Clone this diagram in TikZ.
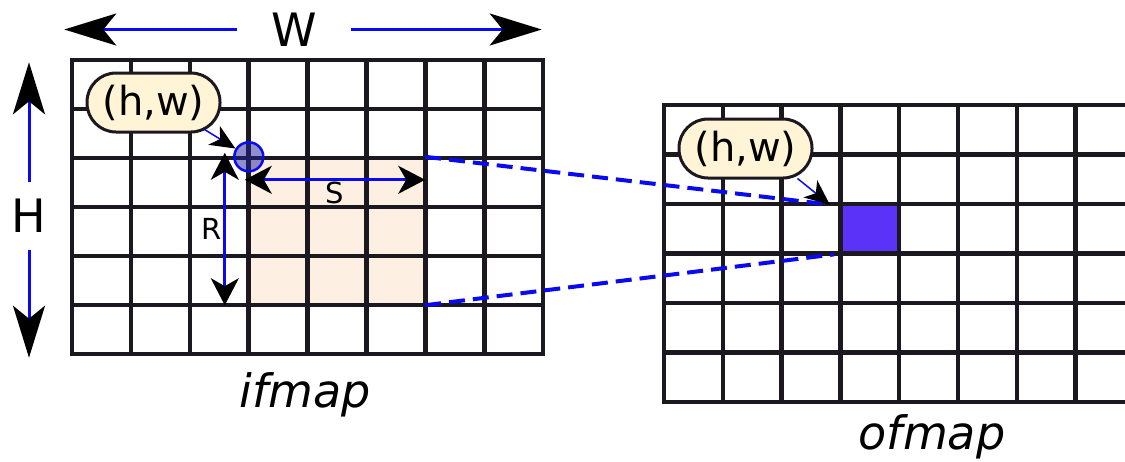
\documentclass[tikz,border=0pt]{standalone}
\usepackage{fontspec}
\setmainfont{DejaVu Sans}
\usepackage{tikz}
\usetikzlibrary{arrows.meta, calc, positioning}
\definecolor{gridink}{HTML}{1B1820}
\definecolor{winfill}{HTML}{FDF0E3}
\definecolor{bubblefill}{HTML}{FFF5D6}
\definecolor{cellfill}{HTML}{5A32F8}
\definecolor{dimblue}{HTML}{0A0AF0}
\definecolor{dotfill}{HTML}{20209A}
\tikzstyle{gridline} = [draw=gridink, line width=4.5pt, line cap=rect]
\tikzstyle{bubble} = [rectangle, rounded corners=29pt, draw=gridink, line width=3pt, fill=bubblefill, minimum width=133pt, minimum height=59pt, inner sep=0pt, font=\fontsize{40}{42}\selectfont]
\tikzstyle{bigarrow} = [draw=dimblue, line width=3pt, -{Stealth[length=52pt, width=32pt, inset=13pt, color=black]}]
\tikzstyle{dimarrow} = [draw=dimblue, line width=3pt, {Stealth[length=27pt, width=28pt, inset=8pt, color=black]}-{Stealth[length=27pt, width=28pt, inset=8pt, color=black]}]
\tikzstyle{pointer} = [draw=dimblue, line width=1.5pt, -{Stealth[length=25pt, width=22pt, inset=7pt, color=black]}]
\tikzstyle{link} = [draw=dimblue, line width=4pt, dash pattern=on 16pt off 8pt]
\tikzstyle{biglabel} = [font=\fontsize{46}{50}\selectfont, inner sep=0pt]
\tikzstyle{smalllabel} = [font=\fontsize{29}{32}\selectfont, inner sep=0pt]

\begin{document}
\begin{tikzpicture}[x=1pt, y=-1pt]
	\useasboundingbox (0,0) rectangle (1125,461);
	\node (Window) [rectangle, fill=winfill, minimum width=176pt, minimum height=148pt, inner sep=0pt] at (337,231) {};
	\node (OutCell) [rectangle, fill=cellfill, minimum width=59pt, minimum height=49.5pt, inner sep=0pt] at (869.5,229.5) {};
	% ifmap and ofmap grids
	\foreach \i in {0,...,8} \draw[gridline] (72+58.9*\i,60) -- (72+58.9*\i,354);
	\foreach \j in {0,...,6} \draw[gridline] (72,60+49*\j) -- (543,60+49*\j);
	\foreach \i in {0,...,7} \draw[gridline] (664+58.8*\i,105) -- (664+58.8*\i,402);
	\foreach \j in {0,...,6} \draw[gridline] (664,105+49.5*\j) -- (1123,105+49.5*\j);
	\draw[link] (Window.north east) -- ([xshift=-10pt]OutCell.north west) coordinate (OutTop);
	\draw[link] (Window.south east) -- ([xshift=-6pt]OutCell.south west);
	\node (Corner) [circle, draw=dimblue, line width=2.5pt, fill=dotfill, fill opacity=0.5, minimum size=29pt, inner sep=0pt] at (Window.north west) {};
	\draw[dimarrow] ([xshift=-24pt, yshift=4pt]Window.north west) -- ([xshift=-24pt]Window.south west) node (RLabel) [smalllabel, midway, left=2pt] {R};
	\draw[dimarrow] ([xshift=-4pt, yshift=-23pt]Window.north west) -- ([yshift=-23pt]Window.north east) node (SLabel) [smalllabel, midway, below=1pt] {S};
	\node (WLabel) [biglabel, minimum width=113pt] at (294,29.5) {W};
	\coordinate [left=173pt of WLabel.west] (WLeft);
	\coordinate [right=191pt of WLabel.east] (WRight);
	\draw[bigarrow] (WLabel.west) -- (WLeft);
	\draw[bigarrow] (WLabel.east) -- (WRight);
	\node (HLabel) [biglabel, minimum height=67pt] at (29,216) {H};
	\coordinate [above=120pt of HLabel.north] (HTop);
	\coordinate [below=108pt of HLabel.south] (HBot);
	\draw[bigarrow] (HLabel.north) -- (HTop);
	\draw[bigarrow] (HLabel.south) -- (HBot);
	\node (BubbleIn) [bubble] at (153.5,102.5) {(h,w)};
	\node (BubbleOut) [bubble] at (745.5,148.5) {(h,w)};
	\draw[pointer] ([xshift=-17pt, yshift=4pt]BubbleIn.south east) -- (Corner);
	\draw[pointer] ([xshift=-16pt, yshift=1pt]BubbleOut.south east) -- (OutTop);
	\node (IfmapLabel) [biglabel] at (305,395) {\itshape ifmap};
	\node (OfmapLabel) [biglabel] at (932,437) {\itshape ofmap};
\end{tikzpicture}
\end{document}
